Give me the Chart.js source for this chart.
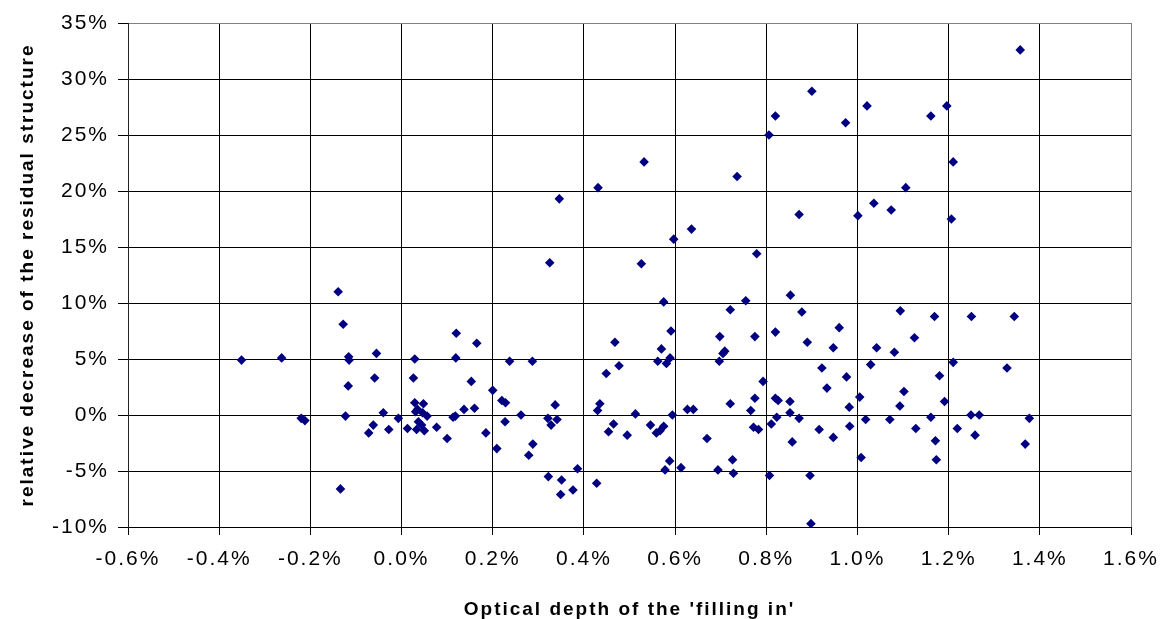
<!DOCTYPE html>
<html>
<head>
<meta charset="utf-8">
<title>Residual structure vs optical depth</title>
<script src="https://cdn.jsdelivr.net/npm/chart.js@4/dist/chart.umd.min.js"></script>
<style>
  html, body { margin: 0; padding: 0; background: #fff; }
  canvas { display: block; }
</style>
</head>
<body>
<canvas id="chart" width="1163" height="619"></canvas>
<script>
// Optical depth of the 'filling in' (%), one entry per measurement
const depth = [
  -0.351, -0.263, -0.220, -0.212, -0.139, -0.134, -0.128, -0.123, -0.117, -0.116,
  -0.115, -0.072, -0.062, -0.059, -0.055, -0.040, -0.028, -0.007, 0.013, 0.026,
  0.029, 0.029, 0.048, 0.035, 0.046, 0.031, 0.056, 0.037, 0.044, 0.033,
  0.050, 0.077, 0.100, 0.113, 0.118, 0.119, 0.120, 0.137, 0.153, 0.160,
  0.165, 0.185, 0.200, 0.209, 0.220, 0.227, 0.228, 0.237, 0.262, 0.279,
  0.287, 0.288, 0.321, 0.322, 0.325, 0.328, 0.337, 0.341, 0.346, 0.349,
  0.351, 0.376, 0.386, 0.428, 0.430, 0.431, 0.435, 0.449, 0.454, 0.465,
  0.468, 0.477, 0.495, 0.513, 0.526, 0.532, 0.546, 0.559, 0.562, 0.567,
  0.570, 0.575, 0.575, 0.578, 0.581, 0.588, 0.589, 0.591, 0.594, 0.597,
  0.613, 0.627, 0.636, 0.640, 0.670, 0.694, 0.697, 0.698, 0.705, 0.709,
  0.721, 0.721, 0.726, 0.728, 0.736, 0.755, 0.766, 0.772, 0.775, 0.775,
  0.779, 0.783, 0.793, 0.806, 0.807, 0.811, 0.820, 0.820, 0.820, 0.823,
  0.826, 0.852, 0.852, 0.853, 0.857, 0.872, 0.872, 0.878, 0.890, 0.896,
  0.898, 0.900, 0.916, 0.922, 0.933, 0.947, 0.947, 0.960, 0.974, 0.976,
  0.982, 0.983, 1.001, 1.005, 1.008, 1.018, 1.021, 1.029, 1.036, 1.042,
  1.071, 1.074, 1.081, 1.093, 1.094, 1.102, 1.106, 1.125, 1.128, 1.161,
  1.161, 1.169, 1.171, 1.173, 1.180, 1.191, 1.196, 1.206, 1.210, 1.210,
  1.219, 1.249, 1.250, 1.258, 1.267, 1.328, 1.344, 1.357, 1.368, 1.377
];

// Relative decrease of the residual structure (%), same order as depth
const decrease = [
  4.9, 5.1, -0.3, -0.5, 11.0, -6.6, 8.1, -0.1, 2.6, 5.2,
  4.9, -1.6, -0.9, 3.3, 5.5, 0.2, -1.3, -0.3, -1.2, 3.3,
  5.0, 1.1, 1.0, 0.5, 0.2, 0.3, -0.1, -0.6, -0.9, -1.3,
  -1.4, -1.1, -2.1, -0.2, -0.1, 5.1, 7.3, 0.5, 3.0, 0.6,
  6.4, -1.6, 2.2, -3.0, 1.3, -0.6, 1.1, 4.8, 0.0, -3.6,
  4.8, -2.6, -0.3, -5.5, 13.6, -0.9, 0.9, -0.4, 19.3, -7.1,
  -5.8, -6.7, -4.8, -6.1, 0.4, 20.3, 1.0, 3.7, -1.5, -0.8,
  6.5, 4.4, -1.8, 0.1, 13.5, 22.6, -0.9, -1.6, 4.8, -1.4,
  5.9, -1.0, 10.1, -4.9, 4.6, -4.1, 5.1, 7.5, 0.0, 15.7,
  -4.7, 0.5, 16.6, 0.5, -2.1, -4.9, 4.8, 7.0, 5.5, 5.7,
  1.0, 9.4, -4.0, -5.2, 21.3, 10.2, 0.4, -1.1, 1.5, 7.0,
  14.4, -1.3, 3.0, 25.0, -5.4, -0.8, 1.5, 7.4, 26.7, -0.2,
  1.3, 1.2, 0.2, 10.7, -2.4, 17.9, -0.3, 9.2, 6.5, -5.4,
  -9.7, 28.9, -1.3, 4.2, 2.4, 6.0, -2.0, 7.8, 26.1, 3.4,
  0.7, -1.0, 17.8, 1.6, -3.8, -0.4, 27.6, 4.5, 18.9, 6.0,
  -0.4, 18.3, 5.6, 0.8, 9.3, 2.1, 20.3, 6.9, -1.2, 26.7,
  -0.2, 8.8, -2.3, -4.0, 3.5, 1.2, 27.6, 17.5, 22.6, 4.7,
  -1.2, 0.0, 8.8, -1.8, 0.0, 4.2, 8.8, 32.6, -2.6, -0.3
];

// Axis ranges: [min, max, step], in percent
const depthAxis = [-0.6, 1.6, 0.2];
const decreaseAxis = [-10, 35, 5];

const depthTitle = "Optical depth of the 'filling in'";
const decreaseTitle = 'relative decrease of the residual structure';

const points = depth.map((x, i) => ({ x: x, y: decrease[i] }));

const FONT = "'Liberation Sans', Arial, Helvetica, sans-serif";
const MARKER = '#000080';
const GRID = '#000000';
const FRAME = '#808080';

// Slightly wider letter spacing for all axis text
const textSpacing = {
  id: 'textSpacing',
  beforeLayout(chart) { chart.ctx.letterSpacing = '2px'; },
  beforeDraw(chart) { chart.ctx.letterSpacing = '2px'; }
};

new Chart(document.getElementById('chart'), {
  type: 'scatter',
  data: {
    datasets: [{
      data: points,
      pointStyle: 'rectRot',
      pointRadius: 4.8,
      pointHoverRadius: 4.8,
      pointBackgroundColor: MARKER,
      pointBorderWidth: 0,
      borderColor: MARKER,
      showLine: false
    }]
  },
  options: {
    responsive: false,
    animation: false,
    events: [],
    layout: { padding: { top: 23, right: 32, left: 0, bottom: 0 } },
    plugins: {
      legend: { display: false },
      tooltip: { enabled: false },
      title: { display: false }
    },
    scales: {
      x: {
        type: 'linear',
        position: 'bottom',
        min: depthAxis[0],
        max: depthAxis[1],
        afterFit(scale) {
          scale.height = 92;
          scale.paddingLeft = 0;
          scale.paddingRight = 0;
        },
        ticks: {
          stepSize: depthAxis[2],
          color: '#000',
          padding: 12,
          maxRotation: 0,
          autoSkip: false,
          font: { family: FONT, size: 21 },
          callback(v) {
            const n = Math.abs(v) < 1e-9 ? 0 : v;
            return n.toFixed(1) + '%';
          }
        },
        grid: {
          color(ctx) {
            return ctx.tick && ctx.tick.value > depthAxis[1] - 1e-6 ? FRAME : GRID;
          },
          tickColor: GRID,
          lineWidth: 1,
          drawTicks: true,
          tickLength: 8
        },
        border: { display: true, color: GRID, width: 1 },
        title: {
          display: true,
          text: depthTitle,
          color: '#000',
          padding: { top: 0, bottom: 0 },
          font: { family: FONT, size: 19, weight: 'bold', lineHeight: 1 }
        }
      },
      y: {
        type: 'linear',
        min: decreaseAxis[0],
        max: decreaseAxis[1],
        afterFit(scale) {
          scale.width = 128;
          scale.paddingTop = 0;
          scale.paddingBottom = 0;
        },
        ticks: {
          stepSize: decreaseAxis[2],
          color: '#000',
          padding: 9,
          autoSkip: false,
          font: { family: FONT, size: 21 },
          callback(v) { return v + '%'; }
        },
        grid: {
          color(ctx) {
            return ctx.tick && ctx.tick.value > decreaseAxis[1] - 1e-6 ? FRAME : GRID;
          },
          tickColor: GRID,
          lineWidth: 1,
          drawTicks: true,
          tickLength: 10
        },
        border: { display: true, color: '#222', width: 1 },
        title: {
          display: true,
          text: decreaseTitle,
          color: '#000',
          padding: { top: 16, bottom: 0 },
          font: { family: FONT, size: 19, weight: 'bold', lineHeight: 1.2 }
        }
      }
    }
  },
  plugins: [textSpacing]
});
</script>
</body>
</html>
